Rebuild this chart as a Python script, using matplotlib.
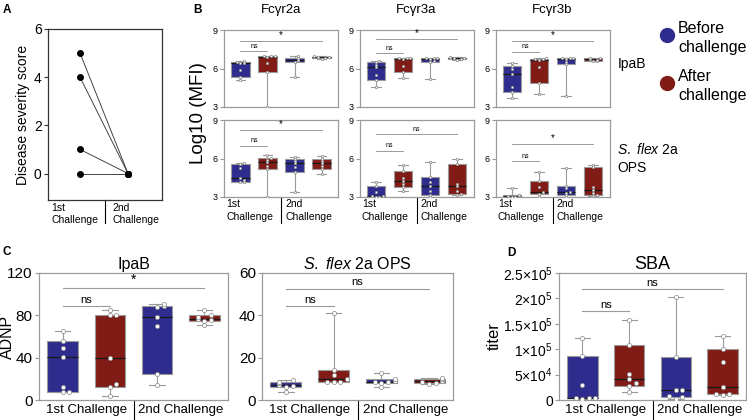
import numpy as np
import matplotlib.pyplot as plt
from matplotlib.lines import Line2D
from matplotlib.transforms import blended_transform_factory as blend

plt.rcParams['font.family'] = ['Liberation Sans', 'DejaVu Sans']
plt.rcParams['mathtext.fontset'] = 'custom'
plt.rcParams['mathtext.rm'] = 'Liberation Sans'
plt.rcParams['mathtext.it'] = 'Liberation Sans:italic'

BLUE = '#2e2c8c'
RED = '#801b16'
EDGE = '#9a9a9a'
GROUP_COLORS = [BLUE, RED, BLUE, RED]

# ---- panel A: disease severity score, 1st vs 2nd challenge
severity_1st = [5, 4, 1, 0]
severity_2nd = [0, 0, 0, 0]

# ---- panel B: log10 MFI, groups = before 1st, after 1st, before 2nd, after 2nd
fc_titles = ['Fcγr2a', 'Fcγr3a', 'Fcγr3b']
row_labels = ['IpaB', '$\\it{S.\\ flex}$ 2a\nOPS']

ipab_fcgr2a = [[5.1, 5.3, 5.9, 6.4, 6.45, 6.5, 6.6],
               [3.0, 5.7, 6.4, 6.9, 6.95, 6.97, 7.0],
               [5.3, 6.5, 6.6, 6.7, 6.8, 6.85, 6.95],
               [6.75, 6.8, 6.85, 6.87, 6.9, 6.92, 6.95]]
ipab_fcgr3a = [[4.58, 5.1, 5.5, 6.14, 6.3, 6.53, 6.58],
               [5.23, 5.75, 6.2, 6.75, 6.79, 6.8, 6.83],
               [5.18, 6.53, 6.6, 6.75, 6.8, 6.83, 6.85],
               [6.7, 6.75, 6.78, 6.8, 6.82, 6.85, 6.88]]
ipab_fcgr3b = [[3.72, 4.14, 4.53, 5.57, 6.0, 6.19, 6.4],
               [3.99, 4.84, 6.14, 6.7, 6.72, 6.75, 6.79],
               [3.86, 6.35, 6.5, 6.72, 6.78, 6.8, 6.83],
               [6.55, 6.62, 6.68, 6.72, 6.76, 6.8, 6.83]]
ops_fcgr2a = [[4.15, 4.2, 4.3, 4.45, 5.24, 5.55, 5.62],
              [3.0, 5.16, 5.4, 5.75, 5.9, 6.01, 6.27],
              [3.4, 4.97, 5.3, 5.67, 5.8, 5.94, 6.14],
              [4.8, 5.16, 5.4, 5.62, 5.8, 6.0, 6.2]]
ops_fcgr3a = [[3.0, 3.02, 3.05, 3.1, 3.41, 3.85, 4.19],
              [3.49, 3.75, 4.0, 4.25, 4.5, 5.02, 5.49],
              [3.0, 3.15, 3.5, 3.86, 4.2, 4.53, 5.7],
              [3.13, 3.21, 3.5, 3.86, 4.0, 5.55, 5.94]]
ops_fcgr3b = [[3.0, 3.02, 3.05, 3.08, 3.12, 3.15, 3.67],
              [3.02, 3.21, 3.3, 3.41, 3.8, 4.25, 4.97],
              [3.02, 3.15, 3.3, 3.39, 3.7, 3.86, 5.23],
              [3.05, 3.15, 3.3, 3.54, 3.8, 5.31, 5.49]]
# significance bars: (y of 1st-challenge "ns" bar, y of overall bar, overall label)
sig_ipab = [(7.36, 8.14, '*'), (7.2, 8.3, '*'), (7.3, 8.14, '*')]
sig_ops = [(7.0, 8.2, '*'), (6.6, 7.9, 'ns'), (5.8, 7.13, '*')]

# ---- panel C: ADNP
adnp_ipab = [[7.5, 8, 12, 41, 49, 56, 65],
             [4, 12.6, 15, 40, 80, 80, 85],
             [14, 25, 69.5, 78, 88, 89, 91],
             [70.4, 75, 76, 77, 78, 80.5, 85]]
adnp_ops = [[3.8, 6.0, 6.8, 7.2, 7.9, 8.6, 9.4],
            [8.5, 8.6, 8.7, 9.7, 12, 14.2, 41.3],
            [6.3, 7.85, 8.4, 8.6, 9.2, 9.7, 12.9],
            [7.5, 7.9, 8.4, 8.8, 9.2, 9.7, 10.2]]

# ---- panel D: SBA titer
sba_titer = [[2e3, 3e3, 4e3, 4.6e3, 2.9e4, 8.7e4, 1.23e5],
             [1.6e4, 2.75e4, 3.3e4, 4.1e4, 5.2e4, 1.09e5, 1.58e5],
             [2.6e3, 6e3, 7e3, 1.96e4, 1.96e4, 8.4e4, 2.02e5],
             [1.0e4, 1.18e4, 1.2e4, 2.49e4, 7.5e4, 1.01e5, 1.26e5]]
sba_ticks = [0, 5e4, 1e5, 1.5e5, 2e5, 2.5e5]
sba_ticklabels = ['0', r'$5{\times}10^4$', r'$1{\times}10^5$', r'$1.5{\times}10^5$',
                  r'$2{\times}10^5$', r'$2.5{\times}10^5$']


def box_stats(vals):
    v = np.asarray(vals, float)
    q1, med, q3 = np.percentile(v, [25, 50, 75], method='weibull')
    return dict(med=med, q1=q1, q3=q3, whislo=v.min(), whishi=v.max(), fliers=[])


def swarm(vals, tol, step):
    placed, offs = [], []
    for v in vals:
        n = sum(abs(v - p) < tol for p in placed)
        placed.append(v)
        k = (n + 1) // 2 * (1 if n % 2 else -1)
        offs.append(k * step)
    return np.array(offs)


def style(ax, ticks, fs, spine=EDGE):
    for s in ax.spines.values():
        s.set_color(spine)
        s.set_linewidth(0.9)
    ax.set_xticks([])
    ax.set_yticks(ticks)
    ax.tick_params(axis='y', labelsize=fs, color=spine, length=3, width=0.8, pad=1.5)


def boxes(ax, groups, width, pt, tol, step):
    stats = [box_stats(g) for g in groups]
    pos = np.arange(len(groups))
    bp = ax.bxp(stats, positions=pos, widths=width, patch_artist=True, showfliers=False,
                boxprops=dict(edgecolor=EDGE, linewidth=0.8),
                whiskerprops=dict(color=EDGE, linewidth=0.8),
                capprops=dict(color=EDGE, linewidth=0.8),
                medianprops=dict(color='#1a1a1a', linewidth=0.9),
                capwidths=width * 0.5)
    for patch, c in zip(bp['boxes'], GROUP_COLORS):
        patch.set_facecolor(c)
    for i, g in enumerate(groups):
        ax.scatter(i + swarm(g, tol, step), g, s=pt, c='white', edgecolors='#888888',
                   linewidths=0.5, zorder=3)


def sig(ax, x0, x1, y, label, fs, lw=0.8, color=EDGE):
    ax.plot([x0, x1], [y, y], color=color, lw=lw, clip_on=False)
    ax.annotate(label, ((x0 + x1) / 2, y), xytext=(0, 1), textcoords='offset points',
                ha='center', va='bottom', fontsize=fs)


def divider(ax, x, depth):
    ax.plot([x, x], [0, -depth], color='black', lw=0.8, clip_on=False,
            transform=blend(ax.transData, ax.transAxes))


fig = plt.figure(figsize=(7.47, 4.2), dpi=100)
W, H = 747.0, 420.0


def add_ax(x0, y0, x1, y1):
    return fig.add_axes([x0 / W, 1 - y1 / H, (x1 - x0) / W, (y1 - y0) / H])


# ---------------- A
axA = add_ax(48, 29, 162, 200)
for a, b in zip(severity_1st, severity_2nd):
    axA.plot([0, 1], [a, b], color='#444444', lw=0.7, zorder=2)
axA.scatter([0] * len(severity_1st), severity_1st, s=16, c='black', zorder=3)
axA.scatter([1] * len(severity_2nd), severity_2nd, s=16, c='black', zorder=3)
axA.set_xlim(-0.667, 1.708)
axA.set_ylim(-1.1, 6)
style(axA, [0, 2, 4, 6], 10, spine='#333333')
axA.set_ylabel('Disease severity score', fontsize=10, labelpad=3)
trA = blend(axA.transData, axA.transAxes)
divider(axA, 0.52, 0.135)
axA.text(0.38, -0.015, '1st\nChallenge', transform=trA, ha='right', va='top',
         multialignment='left', fontsize=7.5, linespacing=1.35)
axA.text(0.67, -0.015, '2nd\nChallenge', transform=trA, ha='left', va='top',
         multialignment='left', fontsize=7.5, linespacing=1.35)

# ---------------- B
b_lefts = [224, 359.5, 495.5]
b_rows = [(30, 107), (120, 197)]
b_data = [[ipab_fcgr2a, ipab_fcgr3a, ipab_fcgr3b], [ops_fcgr2a, ops_fcgr3a, ops_fcgr3b]]
b_sig = [sig_ipab, sig_ops]
for r, (top, bot) in enumerate(b_rows):
    for c, left in enumerate(b_lefts):
        ax = add_ax(left, top, left + 114, bot)
        boxes(ax, b_data[r][c], 0.7, 3, 0.12, 0.13)
        ax.set_xlim(-0.61, 3.61)
        ax.set_ylim(3, 9)
        style(ax, [3, 6, 9], 6.5)
        y_ns, y_all, lab = b_sig[r][c]
        sig(ax, 0, 1, y_ns, 'ns', 5, lw=0.7)
        sig(ax, 0, 3, y_all, lab, 5 if lab == 'ns' else 7, lw=0.7)
        if r == 0:
            ax.set_title(fc_titles[c], fontsize=9.5, pad=12)
        else:
            tr = blend(ax.transData, ax.transAxes)
            divider(ax, 1.5, 0.34)
            ax.text(1.22, -0.03, '1st\nChallenge', transform=tr, ha='right', va='top',
                    multialignment='left', fontsize=7.5, linespacing=1.35)
            ax.text(1.66, -0.03, '2nd\nChallenge', transform=tr, ha='left', va='top',
                    multialignment='left', fontsize=7.5, linespacing=1.35)
        if c == 0 and r == 0:
            ax.set_ylabel('Log10 (MFI)', fontsize=13.5, labelpad=4)
            ax.yaxis.set_label_coords(-0.15, -0.08)
        if c == 2:
            ax.text(1.07, 0.56 if r == 0 else 0.5, row_labels[r], transform=ax.transAxes,
                    ha='left', va='center', fontsize=10, linespacing=1.3)

# legend
for yy, col, lab in [(35, BLUE, 'Before\nchallenge'), (83, RED, 'After\nchallenge')]:
    fig.add_artist(Line2D([667 / W], [1 - yy / H], marker='o', markersize=10, color=col,
                          linestyle='none', transform=fig.transFigure))
    fig.text(678 / W, 1 - (yy + 3) / H, lab, ha='left', va='center', fontsize=11.5,
             linespacing=1.3)

# ---------------- C and D
def bottom_panel(x0, x1, groups, ylim, ticks, title, sigs, tick_fs, title_fs):
    ax = add_ax(x0, 273, x1, 400)
    tol = 0.025 * (ylim[1] - ylim[0])
    boxes(ax, groups, 0.65, 9, tol, 0.14)
    ax.set_xlim(-0.5, 3.5)
    ax.set_ylim(*ylim)
    style(ax, ticks, tick_fs)
    ax.set_title(title, fontsize=title_fs, pad=3)
    tr = blend(ax.transData, ax.transAxes)
    divider(ax, 1.5, 0.17)
    ax.text(0.5, -0.03, '1st Challenge', transform=tr, ha='center', va='top', fontsize=9.5)
    ax.text(2.5, -0.03, '2nd Challenge', transform=tr, ha='center', va='top', fontsize=9.5)
    for (xa, xb, y, lab) in sigs:
        sig(ax, xa, xb, y, lab, 8 if lab == 'ns' else 10)
    return ax

axC1 = bottom_panel(39, 228, adnp_ipab, (0, 120), [0, 40, 80, 120], 'IpaB',
                    [(0, 1, 88.4, 'ns'), (0, 3, 105.8, '*')], 11, 11.5)
axC1.set_ylabel('ADNP', fontsize=11.5)
axC1.yaxis.set_label_coords(-0.125, 0.5)
axC2 = bottom_panel(262, 453, adnp_ops, (0, 60), [0, 20, 40, 60],
                    '$\\it{S.\\ flex}$ 2a OPS',
                    [(0, 1, 44.4, 'ns'), (0, 3, 52.6, 'ns')], 11, 11.5)
axD = bottom_panel(559, 746, sba_titer, (0, 2.5e5), sba_ticks, 'SBA',
                   [(0, 1, 1.75e5, 'ns'), (0, 3, 2.18e5, 'ns')], 10, 13)
axD.set_yticklabels(sba_ticklabels)
axD.set_ylabel('titer', fontsize=12, labelpad=1)

# panel letters
for lab, xx, yy in [('A', 3, 10), ('B', 193, 10), ('C', 3, 252), ('D', 507, 253)]:
    fig.text(xx / W, 1 - yy / H, lab, fontsize=8.5, fontweight='bold', ha='left', va='center')

fig.savefig('out.png', dpi=100)
